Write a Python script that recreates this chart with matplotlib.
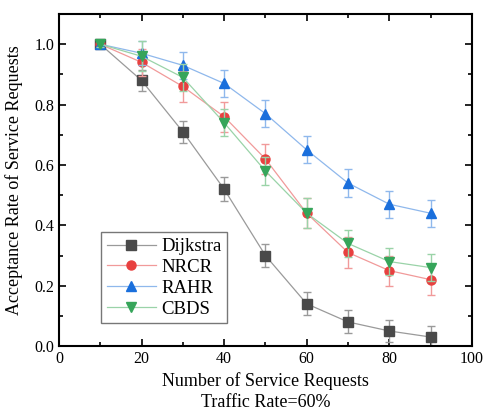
import matplotlib
matplotlib.use("Agg")
from matplotlib import pyplot as plt
from matplotlib.ticker import MultipleLocator

plt.rcParams['font.family'] = ['Liberation Serif', 'DejaVu Serif']

requests = [10, 20, 30, 40, 50, 60, 70, 80, 90]

dijkstra = [1.0, 0.88, 0.71, 0.52, 0.30, 0.14, 0.08, 0.05, 0.03]
nrcr = [1.0, 0.94, 0.86, 0.76, 0.62, 0.44, 0.31, 0.25, 0.22]
rahr = [1.0, 0.97, 0.93, 0.87, 0.77, 0.65, 0.54, 0.47, 0.44]
cbds = [1.0, 0.96, 0.89, 0.74, 0.58, 0.44, 0.34, 0.28, 0.26]

dijkstra_err = [0.01, 0.036, 0.037, 0.04, 0.038, 0.038, 0.038, 0.038, 0.038]
nrcr_err = [0.01, 0.045, 0.05, 0.05, 0.05, 0.05, 0.05, 0.05, 0.05]
rahr_err = [0.01, 0.04, 0.045, 0.045, 0.045, 0.045, 0.045, 0.045, 0.045]
cbds_err = [0.01, 0.05, 0.045, 0.045, 0.045, 0.05, 0.045, 0.045, 0.045]

series = [
    ("Dijkstra", dijkstra, dijkstra_err, "s", "#4a4a4a", "#9a9a9a"),
    ("NRCR", nrcr, nrcr_err, "o", "#e8403f", "#f19a9a"),
    ("RAHR", rahr, rahr_err, "^", "#1a6fdc", "#8fb8ec"),
    ("CBDS", cbds, cbds_err, "v", "#36a55a", "#9ad3a8"),
]

fig = plt.figure(figsize=(4.83, 4.12), dpi=100)
ax = fig.add_axes([0.122, 0.160, 0.855, 0.806])

for name, ys, err, m, c, lc in series:
    ax.errorbar(requests, ys, yerr=err, fmt="none", ecolor=lc, elinewidth=1,
                capsize=3, capthick=1)
    ax.plot(requests, ys, color=lc, lw=0.9, marker=m, markersize=6.5,
            markerfacecolor=c, markeredgecolor=c, label=name)

ax.set_xlim(0, 100)
ax.set_ylim(0, 1.1)
ax.xaxis.set_major_locator(MultipleLocator(20))
ax.xaxis.set_minor_locator(MultipleLocator(10))
ax.yaxis.set_major_locator(MultipleLocator(0.2))
ax.yaxis.set_minor_locator(MultipleLocator(0.1))
ax.tick_params(which="both", direction="in", top=True, right=True, labelsize=11.5)
ax.tick_params(which="major", length=5, width=1.2)
ax.tick_params(which="minor", length=3, width=1.2)
for s in ax.spines.values():
    s.set_linewidth(1.5)

ax.set_xlabel("Number of Service Requests\nTraffic Rate=60%", fontsize=13, linespacing=1.3)
ax.set_ylabel("Acceptance Rate of Service Requests", fontsize=13, labelpad=8)

leg = ax.legend(loc="lower left", bbox_to_anchor=(0.08, 0.04), fontsize=13.5,
                fancybox=False, edgecolor="#555555", handlelength=2.6,
                handletextpad=0.3, borderpad=0.3, labelspacing=0.2)
leg.get_frame().set_linewidth(1.0)

fig.savefig("out.png", dpi=100)
